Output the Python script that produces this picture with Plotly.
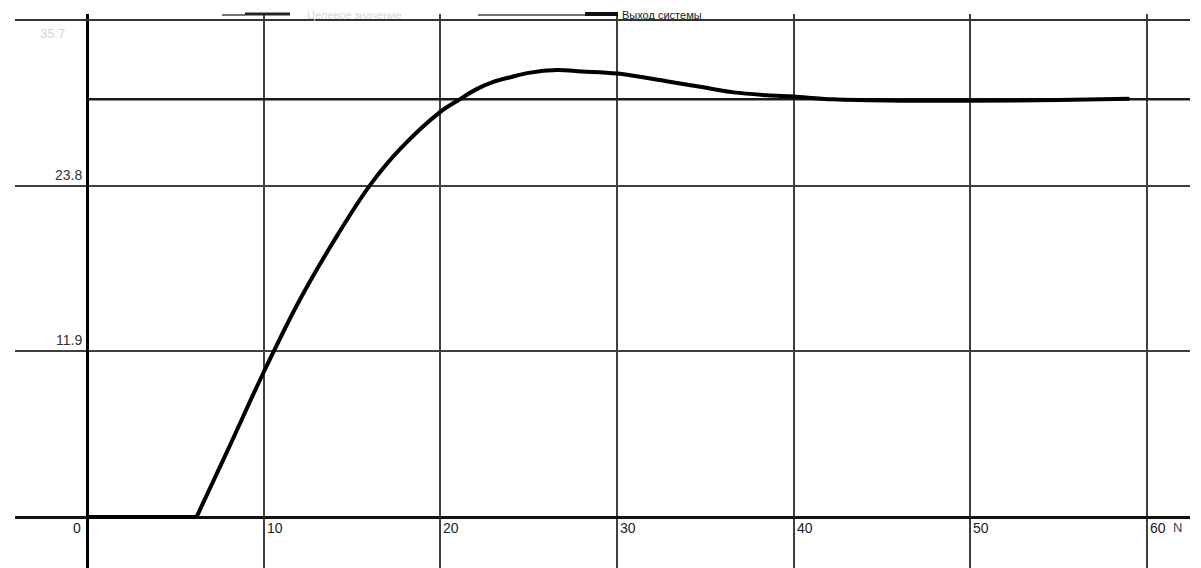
import plotly.graph_objects as go

# Step response of the closed-loop system, sample index N
t_out = [0, 6.2, 8.0, 10.0, 12.0, 14.2, 16.0, 17.7, 20.0, 21.1, 22.0, 23.0, 24.0,
         25.0, 26.6, 28.0, 30.0, 32.8, 34.7, 36.6, 38.5, 40.0, 42.2, 46.0, 50.0,
         55.0, 59.0]
y_out = [0, 0, 4.9, 10.4, 15.5, 20.3, 23.8, 26.4, 29.1, 30.0, 30.7, 31.25, 31.6,
         31.9, 32.1, 32.0, 31.85, 31.3, 30.9, 30.5, 30.3, 30.2, 30.0, 29.9, 29.9,
         29.95, 30.05]

# Target level
setpoint = 30.0

x_ticks = [0, 10, 20, 30, 40, 50, 60]
x_tick_text = ["0", "10", "20", "30", "40", "50", "60"]
y_ticks = [0, 11.9, 23.8, 35.7]
y_tick_text = ["0", "11.9", "23.8", "35.7"]

legend_names = ["Целевое значение", "Выход системы"]
x_name = "N"

W, H = 1201, 568
ML, MR, MT, MB = 15, 11, 14, 0
X_RANGE = [-4.075, 62.43]
Y_RANGE = [-3.66, 36.13]

FONT = "Liberation Sans, Arial, sans-serif"
GRID = "#404040"

fig = go.Figure()

fig.add_trace(go.Scatter(
    x=[0, X_RANGE[1]], y=[setpoint, setpoint], mode="lines",
    line=dict(color="#1a1a1a", width=2.5), name=legend_names[0],
    showlegend=False, hoverinfo="skip"))

# Dead-time part (flat) drawn straight, the response itself smoothed
n_flat = 2
fig.add_trace(go.Scatter(
    x=t_out[:n_flat], y=y_out[:n_flat], mode="lines",
    line=dict(color="#000000", width=4), name=legend_names[1],
    showlegend=False))
fig.add_trace(go.Scatter(
    x=t_out[n_flat - 1:], y=y_out[n_flat - 1:], mode="lines",
    line=dict(color="#000000", width=4, shape="spline", smoothing=1.0),
    name=legend_names[1], showlegend=False))


def px(xp):
    return (xp - ML) / (W - ML - MR)


def py(yp):
    return (H - MB - yp) / (H - MT - MB)


annotations = []

# Horizontal-axis labels sit just below the zero line, right of each grid line
for v, s in zip(x_ticks[1:], x_tick_text[1:]):
    annotations.append(dict(x=v, y=0, xref="x", yref="y", text=s,
                            showarrow=False, xanchor="left", yanchor="top",
                            xshift=1, yshift=-1,
                            font=dict(family=FONT, size=14, color="#222")))
annotations.append(dict(x=0, y=0, xref="x", yref="y", text=x_tick_text[0],
                        showarrow=False, xanchor="right", yanchor="top",
                        xshift=-4, yshift=-1,
                        font=dict(family=FONT, size=14, color="#222")))
annotations.append(dict(x=60, y=0, xref="x", yref="y", text=x_name,
                        showarrow=False, xanchor="left", yanchor="top",
                        xshift=24, yshift=-1,
                        font=dict(family=FONT, size=13, color="#444")))

# Vertical-axis labels sit above each grid line, left of the axis
for v, s in zip(y_ticks[1:3], y_tick_text[1:3]):
    annotations.append(dict(x=0, y=v, xref="x", yref="y", text=s,
                            showarrow=False, xanchor="right", yanchor="bottom",
                            xshift=-3, yshift=1,
                            font=dict(family=FONT, size=14, color="#333")))
annotations.append(dict(x=0, y=y_ticks[3], xref="x", yref="y", text=y_tick_text[3],
                        showarrow=False, xanchor="right", yanchor="top",
                        xshift=-20, yshift=-4,
                        font=dict(family=FONT, size=13, color="#d4d4d4")))

# Legend row across the top
annotations.append(dict(x=px(305), y=py(15), xref="paper", yref="paper",
                        text=legend_names[0], showarrow=False,
                        xanchor="left", yanchor="middle",
                        font=dict(family=FONT, size=11, color="#d6d6d6")))
annotations.append(dict(x=px(620), y=py(15), xref="paper", yref="paper",
                        text=legend_names[1], showarrow=False,
                        xanchor="left", yanchor="middle",
                        font=dict(family=FONT, size=11, color="#222")))

shapes = [
    # upper grid line, drawn a little heavier so it reads clearly
    dict(type="line", xref="paper", yref="y", x0=0, x1=1,
         y0=y_ticks[3], y1=y_ticks[3], line=dict(color="#333", width=2)),
    dict(type="line", xref="paper", yref="paper", x0=px(222), x1=px(245),
         y0=py(15), y1=py(15), line=dict(color="#444", width=1.5)),
    dict(type="line", xref="paper", yref="paper", x0=px(245), x1=px(290),
         y0=py(14), y1=py(14), line=dict(color="#222", width=3)),
    dict(type="line", xref="paper", yref="paper", x0=px(478), x1=px(585),
         y0=py(15), y1=py(15), line=dict(color="#444", width=1.5)),
    dict(type="line", xref="paper", yref="paper", x0=px(585), x1=px(618),
         y0=py(14), y1=py(14), line=dict(color="#111", width=4)),
]

fig.update_layout(
    width=W, height=H,
    margin=dict(l=ML, r=MR, t=MT, b=MB, pad=0),
    paper_bgcolor="white", plot_bgcolor="white",
    showlegend=False,
    annotations=annotations, shapes=shapes,
    xaxis=dict(range=X_RANGE, tickvals=x_ticks, showticklabels=False,
               ticks="", showgrid=True, gridcolor=GRID, gridwidth=1.5,
               zeroline=True, zerolinecolor="#000", zerolinewidth=3,
               showline=False, fixedrange=True),
    yaxis=dict(range=Y_RANGE, tickvals=y_ticks, showticklabels=False,
               ticks="", showgrid=True, gridcolor=GRID, gridwidth=1.5,
               zeroline=True, zerolinecolor="#111", zerolinewidth=2.5,
               showline=False, fixedrange=True),
)

fig.write_html("out.html")
